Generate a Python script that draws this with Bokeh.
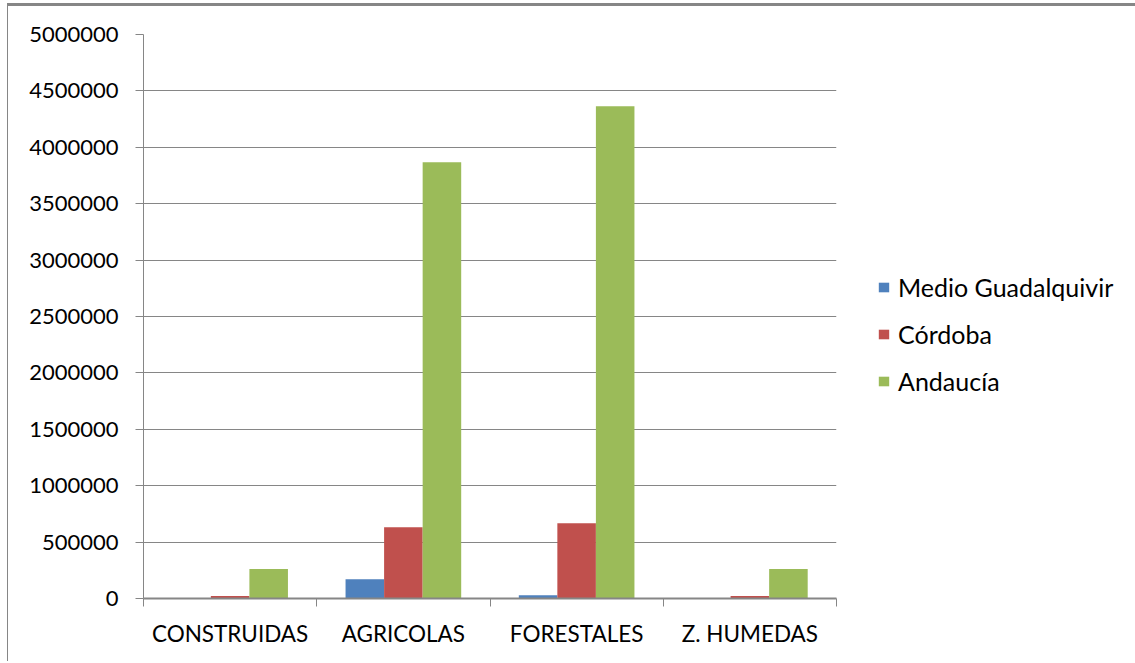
from bokeh.plotting import figure
from bokeh.models import (Range1d, FixedTicker, Legend, LegendItem,
                          BasicTickFormatter, ColumnDataSource)
from bokeh.transform import dodge
from bokeh.embed import file_html
from bokeh.resources import INLINE

categories = ["CONSTRUIDAS", "AGRICOLAS", "FORESTALES", "Z. HUMEDAS"]
medio_guadalquivir = [1500, 171000, 29000, 1500]
cordoba = [22000, 632000, 668000, 22000]
andalucia = [261000, 3868000, 4364000, 262000]
series_names = ["Medio Guadalquivir", "Córdoba", "Andaucía"]
y_ticks = list(range(0, 5000001, 500000))

colors = ["#4F81BD", "#C0504D", "#9BBB59"]
GRID = "#868686"
FONT = "Lato"

n = len(categories)
centers = [i + 0.5 for i in range(n)]
bounds = list(range(n + 1))
src = ColumnDataSource(dict(xc=centers, s0=medio_guadalquivir, s1=cordoba, s2=andalucia))

p = figure(frame_width=693, frame_height=564,
           x_range=Range1d(0, n), y_range=Range1d(0, 5000000),
           output_backend="svg", toolbar_location=None,
           min_border_left=135, min_border_right=297,
           min_border_top=28, min_border_bottom=63)
p.styles = {"border-top": "3px solid #868686", "border-left": "1px solid #868686",
            "margin-top": "3px", "margin-left": "7px"}
p.outline_line_color = None
p.background_fill_color = "white"
p.border_fill_color = "white"

bw = 0.2225
offsets = [-bw, 0.0, bw]
renderers = []
for k, col in enumerate(["s0", "s1", "s2"]):
    r = p.vbar(x=dodge("xc", offsets[k], range=p.x_range), top=col, bottom=0,
               width=bw, source=src, fill_color=colors[k], line_color=None)
    renderers.append(r)

# x axis
xa = p.xaxis[0]
xa.ticker = FixedTicker(ticks=centers, minor_ticks=bounds)
xa.major_label_overrides = {c: lab for c, lab in zip(centers, categories)}
xa.major_tick_line_color = None
xa.major_tick_out = 0
xa.major_tick_in = 0
xa.minor_tick_line_color = GRID
xa.minor_tick_out = 8
xa.minor_tick_in = 0
xa.minor_tick_line_width = 1
xa.axis_line_color = GRID
xa.axis_line_width = 2
xa.major_label_text_font = FONT
xa.major_label_text_font_size = "22.5px"
xa.major_label_text_color = "black"
xa.major_label_standoff = 13

# y axis
ya = p.yaxis[0]
ya.ticker = FixedTicker(ticks=y_ticks)
ya.formatter = BasicTickFormatter(use_scientific=False)
ya.axis_line_color = GRID
ya.axis_line_width = 1
ya.major_tick_line_color = GRID
ya.major_tick_out = 8
ya.major_tick_in = 0
ya.minor_tick_line_color = None
ya.major_label_text_font = FONT
ya.major_label_text_font_size = "22px"
ya.major_label_text_color = "black"
ya.major_label_standoff = 17

p.xgrid.grid_line_color = None
p.ygrid.grid_line_color = GRID
p.ygrid.grid_line_width = 1

legend = Legend(items=[LegendItem(label=nm, renderers=[r]) for nm, r in zip(series_names, renderers)],
                location=(41, 202), orientation="vertical")
legend.border_line_color = None
legend.background_fill_alpha = 0
legend.label_text_font = FONT
legend.label_text_font_size = "25px"
legend.label_text_color = "black"
legend.glyph_width = 13
legend.glyph_height = 12
legend.label_height = 20
legend.spacing = 17
legend.padding = 0
legend.margin = 0
legend.label_standoff = 8
p.add_layout(legend, "right")

open("out.html", "w").write(file_html(p, INLINE))
